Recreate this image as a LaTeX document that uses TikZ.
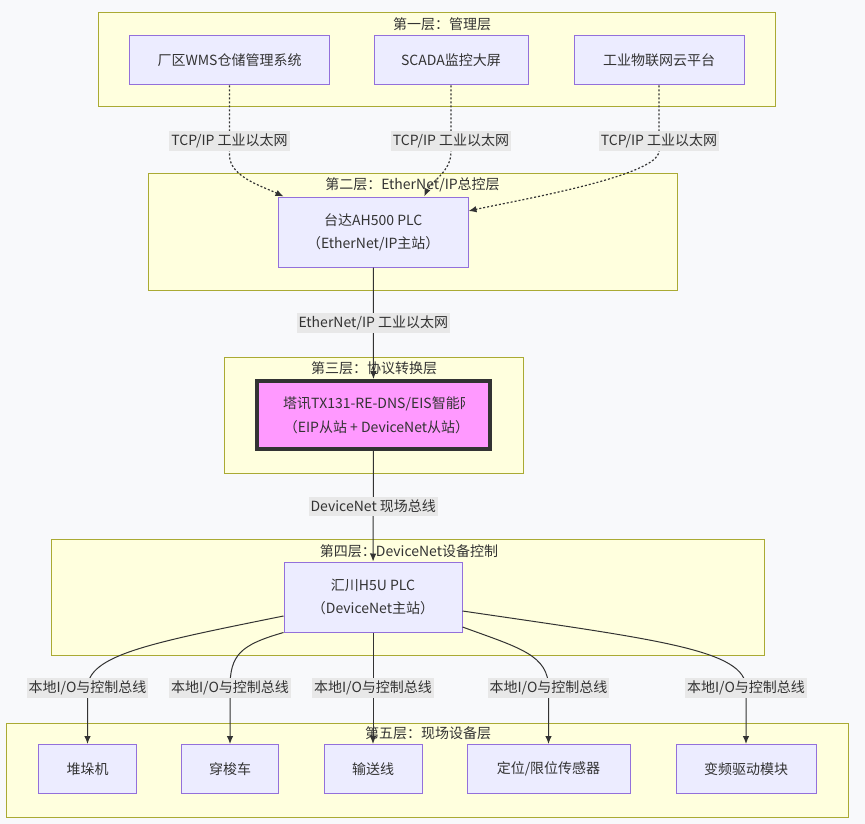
\documentclass[tikz,border=0pt]{standalone}
\usepackage{fontspec}
\setmainfont{Noto Sans CJK SC}
\usetikzlibrary{arrows.meta,positioning,calc}
\definecolor{pagebg}{HTML}{F8F9FB}
\definecolor{inkgray}{HTML}{333333}
\definecolor{layerfill}{HTML}{FFFFDE}
\definecolor{layerline}{HTML}{AAAA33}
\definecolor{boxfill}{HTML}{ECECFF}
\definecolor{boxline}{HTML}{9370DB}
\definecolor{gwfill}{HTML}{FF99FF}
\definecolor{lblfill}{HTML}{E8E8E8}

\begin{document}
\begin{tikzpicture}
[x=1pt,y=-1pt,
font=\fontsize{14}{23}\selectfont,text=inkgray,
layer/.style={draw=layerline,fill=layerfill,line width=1pt},
ltitle/.style={inner sep=0pt},
box/.style={draw=boxline,fill=boxfill,line width=1pt,align=center,inner sep=0pt,minimum height=49pt},
gw/.style={draw=inkgray,fill=gwfill,line width=4pt,inner sep=0pt,minimum width=233pt,minimum height=68pt},
lbl/.style={fill=lblfill,inner xsep=2pt,inner ysep=3pt},
link/.style={draw=inkgray,line width=1pt,-{Latex[length=8pt,width=6.5pt]}},
dlink/.style={link,line width=1.2pt,dash pattern=on 2pt off 2pt}]
%%
\useasboundingbox[fill=pagebg] (0,0) rectangle (865,824);
%%
%%%%%%%%%%%%%%%%%%
% layer 1
%%%%%%%%%%%%%%%%%%
\draw[layer] (98,13) rectangle (775,106.5);
\node[ltitle] (t1) at (442,24) {第一层：管理层};
\node[box,minimum width=200pt] (wms) at (229.5,60.5) {厂区WMS仓储管理系统};
\node[box,minimum width=154pt] (scada) at (451,60.5) {SCADA监控大屏};
\node[box,minimum width=170pt] (iot) at (659,60.5) {工业物联网云平台};
%%
%%%%%%%%%%%%%%%%%%
% layer 2
%%%%%%%%%%%%%%%%%%
\draw[layer] (148,174) rectangle (677,290);
\node[ltitle] (t2) at (412.5,185) {第二层：EtherNet/IP总控层};
\node[box,minimum width=189.5pt,minimum height=70pt] (ah) at (373.25,232) {台达AH500 PLC\\（EtherNet/IP主站）};
%%
%%%%%%%%%%%%%%%%%%
% layer 3
%%%%%%%%%%%%%%%%%%
\draw[layer] (224,357) rectangle (523,473);
\node[ltitle] (t3) at (374,368) {第三层：协议转换层};
\node[gw] (tx) at (373.5,415) {};
\begin{scope}
\clip (255,379) rectangle (464.5,451);
\node[anchor=west,inner sep=0pt] (txa) at (283,404) {塔讯TX131-RE-DNS/EIS智能网关};
\end{scope}
\node[inner sep=0pt] (txb) at ($(tx)+(3,12)$) {（EIP从站 + DeviceNet从站）};
%%
%%%%%%%%%%%%%%%%%%
% layer 4
%%%%%%%%%%%%%%%%%%
\draw[layer] (51,539) rectangle (764,655);
\node[ltitle] (t4) at (409,551) {第四层：DeviceNet设备控制};
\node[box,minimum width=178pt,minimum height=70pt] (h5u) at (373,597) {汇川H5U PLC\\（DeviceNet主站）};
%%
%%%%%%%%%%%%%%%%%%
% layer 5
%%%%%%%%%%%%%%%%%%
\draw[layer] (6.6,723) rectangle (848,817);
\node[ltitle] (t5) at (428,733) {第五层：现场设备层};
\node[box,minimum width=97.5pt] (stacker) at (87.5,769) {堆垛机};
\node[box,minimum width=97.5pt] (shuttle) at (230,769) {穿梭车};
\node[box,minimum width=98pt] (conveyor) at (373,769) {输送线};
\node[box,minimum width=163pt] (sensor) at (548.5,769) {定位/限位传感器};
\node[box,minimum width=140pt] (vfd) at (746,769) {变频驱动模块};
%%
%%%%%%%%%%%%%%%%%%
% links
%%%%%%%%%%%%%%%%%%
%% management -> AH500
\draw[dlink] (wms.south) -- (wms.south |- 0,141) node[lbl] {TCP/IP 工业以太网}
  -- ++(0,14) .. controls ++(0,22) and ($(ah.north west)+(-15,-10)$) .. ($(ah.north west)+(5.5,0)$);
\draw[dlink] (scada.south) -- (scada.south |- 0,141) node[lbl] {TCP/IP 工业以太网}
  -- ++(0,11) .. controls ++(0,20) and ($(ah.north)+(57,-14)$) .. ($(ah.north)+(51,0)$);
\draw[dlink] (iot.south) -- (iot.south |- 0,141) node[lbl] {TCP/IP 工业以太网}
  -- ++(0,10) .. controls ++(0,25) and ($(ah.east)+(50,-32)$) .. ($(ah.east)+(0,-21)$);
%%
\draw[link] (ah) -- node[lbl] {EtherNet/IP 工业以太网} (tx);
\draw[link] (tx) -- node[lbl] {DeviceNet 现场总线} (h5u);
%%
%% H5U -> field devices
\draw[link] ($(h5u.west)+(0,19)$) .. controls (150,643) and (88,655) .. (stacker.north |- 0,688)
  node[lbl] {本地I/O与控制总线} -- (stacker.north);
\draw[link] (h5u.south west) .. controls (240,645) and (230,655) .. (shuttle.north |- 0,688)
  node[lbl] {本地I/O与控制总线} -- (shuttle.north);
\draw[link] (h5u) -- node[lbl] {本地I/O与控制总线} (conveyor);
\draw[link] ($(h5u.east)+(0,30)$) .. controls (520,648) and (548.5,655) .. (sensor.north |- 0,688)
  node[lbl] {本地I/O与控制总线} -- (sensor.north);
\draw[link] ($(h5u.east)+(0,14)$) .. controls (660,640) and (746,650) .. (vfd.north |- 0,688)
  node[lbl] {本地I/O与控制总线} -- (vfd.north);
%%
\end{tikzpicture}
\end{document}
